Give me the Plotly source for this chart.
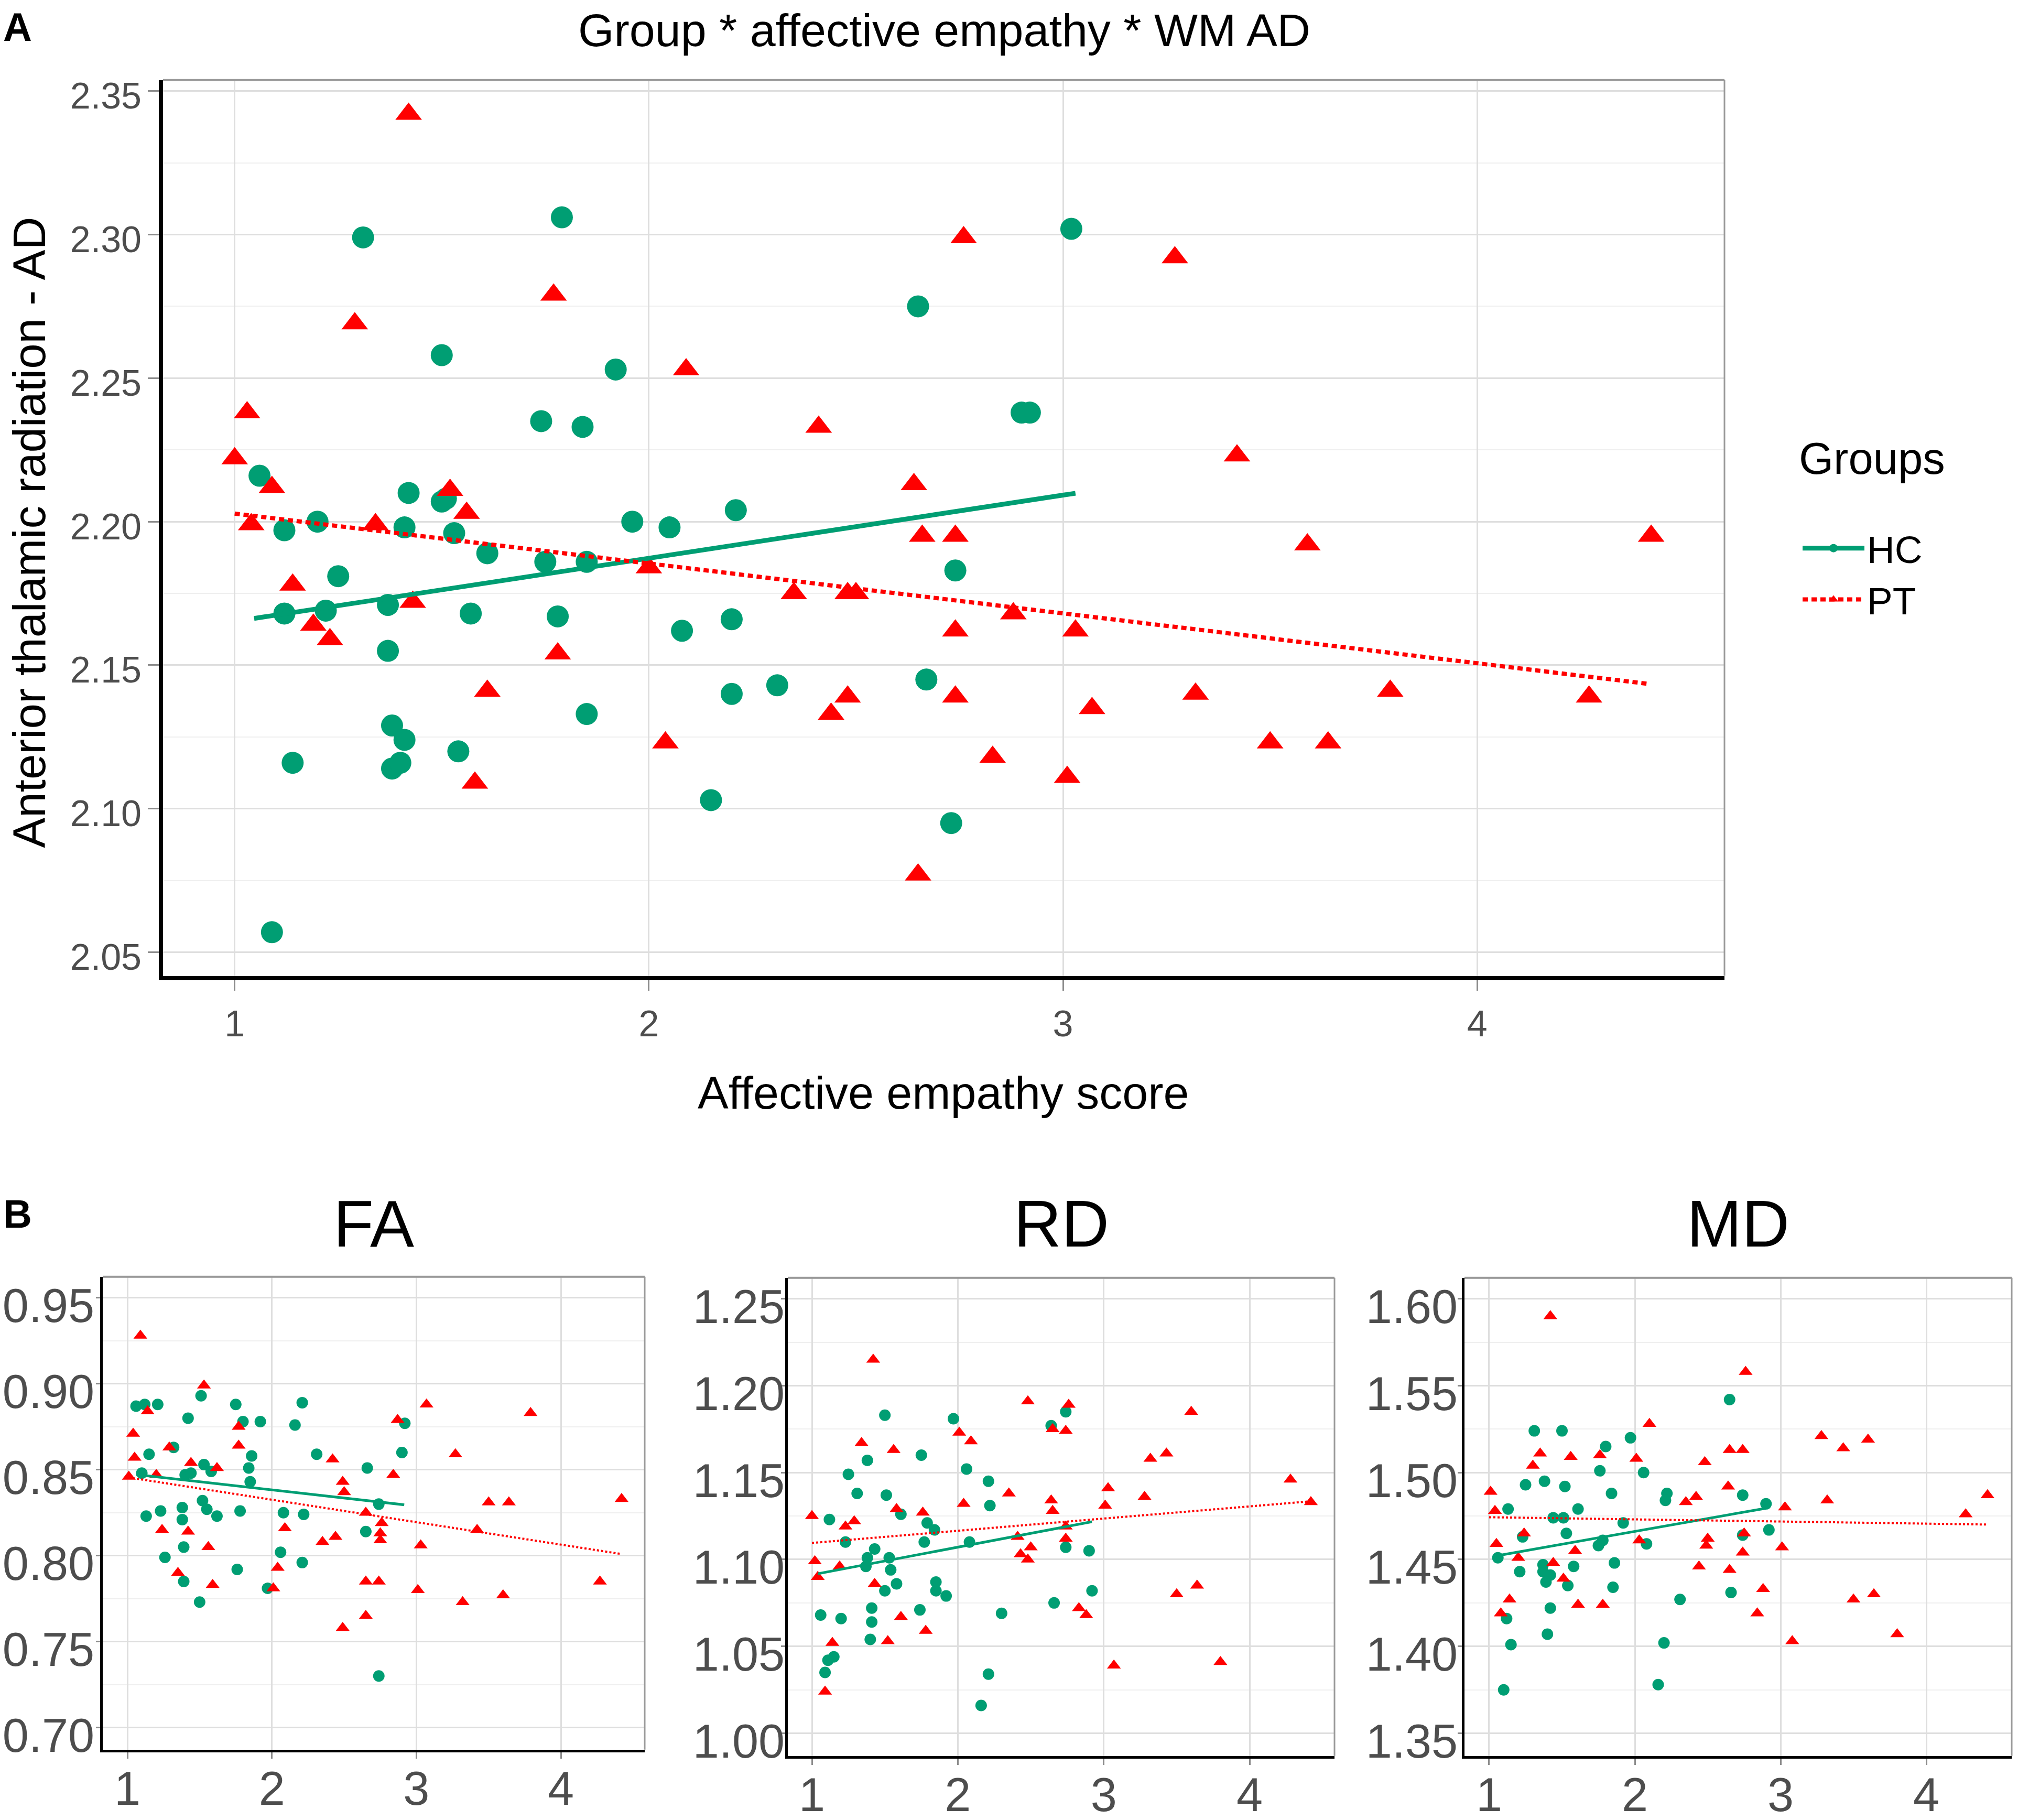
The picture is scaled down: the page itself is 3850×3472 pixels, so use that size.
import plotly.graph_objects as go

W, H = 3850, 3472          # reference picture size
HF = 3482                  # figure height
SY = 1.00767               # vertical mapping: figure px = SY * reference px
GREEN = "#009E73"
RED = "#FF0000"
FONT = "Liberation Sans, Arial, sans-serif"
TICKCOL = "#4D4D4D"

groups = ["HC", "PT"]

# ---------------- Panel A: AD ----------------
a_hc_x = [1.06, 1.12, 1.12, 1.14, 1.09, 1.20, 1.22, 1.25, 1.31, 1.37, 1.37, 1.38, 1.41, 1.38, 1.40, 1.41,
          1.42, 1.50, 1.50, 1.51, 1.53, 1.54, 1.57, 1.61, 1.74, 1.75, 1.79, 1.78, 1.84, 1.85, 1.85, 1.92,
          1.96, 2.05, 2.08, 2.15, 2.21, 2.20, 2.20, 2.31, 2.65, 2.67, 2.74, 2.73, 2.90, 2.92, 3.02]
a_hc_y = [2.216, 2.197, 2.168, 2.116, 2.057, 2.200, 2.169, 2.181, 2.299, 2.171, 2.155, 2.129, 2.124, 2.114,
          2.116, 2.198, 2.210, 2.258, 2.207, 2.208, 2.196, 2.120, 2.168, 2.189, 2.235, 2.186, 2.306, 2.167,
          2.233, 2.186, 2.133, 2.253, 2.200, 2.198, 2.162, 2.103, 2.204, 2.166, 2.140, 2.143, 2.275, 2.145,
          2.183, 2.095, 2.238, 2.238, 2.302]
a_pt_x = [1.00, 1.03, 1.04, 1.09, 1.14, 1.19, 1.23, 1.29, 1.34, 1.42, 1.43, 1.52, 1.56, 1.61, 1.58, 1.77,
          1.78, 2.00, 2.04, 2.09, 2.35, 2.41, 2.44, 2.48, 2.50, 2.48, 2.64, 2.66, 2.74, 2.76, 2.74, 2.74,
          2.65, 2.83, 2.88, 3.01, 3.03, 3.07, 3.27, 3.32, 3.42, 3.50, 3.59, 3.64, 3.79, 4.27, 4.42]
a_pt_y = [2.222, 2.238, 2.199, 2.212, 2.178, 2.164, 2.159, 2.269, 2.199, 2.342, 2.172, 2.211, 2.203, 2.141,
          2.109, 2.279, 2.154, 2.184, 2.123, 2.253, 2.175, 2.233, 2.133, 2.175, 2.175, 2.139, 2.213, 2.195,
          2.195, 2.299, 2.162, 2.139, 2.077, 2.118, 2.168, 2.111, 2.162, 2.135, 2.292, 2.140, 2.223, 2.123,
          2.192, 2.123, 2.141, 2.139, 2.195]
a_hc_fit_x = [1.047, 3.030]
a_hc_fit_y = [2.1663, 2.2099]
a_pt_fit_x = [1.000, 4.413]
a_pt_fit_y = [2.2028, 2.1435]

# ---------------- Panel B: FA ----------------
fa_hc_x = [1.06, 1.12, 1.21, 1.42, 1.51, 1.75, 1.80, 1.92, 2.16, 2.21, 2.92, 1.15, 1.32, 1.86, 2.31, 2.90,
           1.10, 1.40, 1.44, 1.53, 1.58, 1.84, 1.85, 2.66, 1.13, 1.23, 1.38, 1.38, 1.52, 1.55, 1.62, 1.78,
           2.08, 2.22, 2.74, 2.65, 1.39, 1.26, 1.76, 2.06, 2.21, 1.39, 1.97, 1.50, 2.74]
fa_hc_y = [0.887, 0.888, 0.888, 0.880, 0.893, 0.888, 0.878, 0.878, 0.876, 0.889, 0.877, 0.859, 0.863, 0.858,
           0.859, 0.860, 0.848, 0.847, 0.848, 0.853, 0.849, 0.851, 0.843, 0.851, 0.823, 0.826, 0.828, 0.821,
           0.832, 0.827, 0.823, 0.826, 0.825, 0.824, 0.830, 0.814, 0.805, 0.799, 0.792, 0.802, 0.796, 0.785,
           0.781, 0.773, 0.730]
fa_pt_x = [1.09, 1.53, 1.14, 1.04, 1.05, 1.01, 1.20, 1.29, 1.44, 1.62, 1.77, 1.77, 1.24, 1.42, 1.56, 1.35,
           1.59, 2.01, 2.04, 2.09, 2.35, 2.44, 2.42, 2.49, 2.50, 2.49, 2.65, 2.65, 2.65, 2.74, 2.76, 2.75,
           2.75, 2.84, 2.87, 3.03, 3.01, 3.07, 3.27, 3.32, 3.42, 3.50, 3.60, 3.64, 3.79, 4.27, 4.42]
fa_pt_y = [0.928, 0.899, 0.884, 0.871, 0.857, 0.846, 0.847, 0.863, 0.854, 0.851, 0.875, 0.864, 0.815, 0.814,
           0.805, 0.790, 0.783, 0.781, 0.793, 0.816, 0.808, 0.811, 0.856, 0.843, 0.837, 0.758, 0.825, 0.785,
           0.765, 0.785, 0.819, 0.813, 0.809, 0.847, 0.879, 0.806, 0.780, 0.888, 0.859, 0.773, 0.815, 0.831,
           0.777, 0.831, 0.883, 0.785, 0.833]
fa_hc_fit_x = [1.061, 2.916]
fa_hc_fit_y = [0.8472, 0.8296]
fa_pt_fit_x = [1.009, 4.408]
fa_pt_fit_y = [0.8455, 0.8011]

# ---------------- Panel B: RD ----------------
rd_hc_x = [1.50, 1.97, 2.64, 2.74, 1.38, 1.75, 1.25, 2.06, 1.31, 1.51, 2.21, 2.22, 1.12, 1.61, 1.79, 1.84,
           1.23, 1.77, 2.08, 1.43, 1.38, 1.53, 1.37, 1.54, 2.74, 2.90, 1.58, 1.85, 1.50, 1.85, 1.92, 2.92,
           1.41, 1.74, 2.66, 2.30, 1.06, 1.20, 1.41, 1.40, 1.15, 1.11, 1.09, 2.21, 2.16]
rd_hc_y = [1.183, 1.181, 1.177, 1.185, 1.157, 1.160, 1.149, 1.152, 1.138, 1.137, 1.145, 1.131, 1.123, 1.126,
           1.121, 1.117, 1.110, 1.110, 1.110, 1.106, 1.101, 1.101, 1.096, 1.094, 1.107, 1.105, 1.086, 1.087,
           1.082, 1.082, 1.079, 1.082, 1.072, 1.071, 1.075, 1.069, 1.068, 1.066, 1.064, 1.054, 1.044, 1.042,
           1.035, 1.034, 1.016]
rd_pt_x = [1.42, 2.48, 2.76, 3.60, 2.01, 2.09, 1.34, 2.65, 2.74, 1.56, 3.32, 3.43, 4.28, 3.03, 2.35, 2.64,
           3.28, 2.04, 3.01, 4.42, 1.00, 1.29, 1.23, 1.58, 1.76, 2.65, 2.74, 2.74, 2.41, 2.50, 2.43, 2.48,
           1.02, 1.04, 1.19, 1.43, 3.64, 3.50, 2.83, 2.88, 1.61, 1.78, 1.14, 1.52, 3.07, 3.80, 1.09]
rd_pt_y = [1.215, 1.191, 1.189, 1.185, 1.173, 1.168, 1.167, 1.175, 1.174, 1.163, 1.158, 1.161, 1.146, 1.141,
           1.138, 1.134, 1.136, 1.132, 1.131, 1.133, 1.125, 1.122, 1.119, 1.129, 1.127, 1.128, 1.119, 1.112,
           1.113, 1.107, 1.103, 1.100, 1.099, 1.090, 1.096, 1.086, 1.085, 1.080, 1.072, 1.068, 1.067, 1.059,
           1.052, 1.053, 1.039, 1.041, 1.024]
rd_hc_fit_x = [1.041, 2.919]
rd_hc_fit_y = [1.0918, 1.1217]
rd_pt_fit_x = [1.000, 4.423]
rd_pt_fit_y = [1.1095, 1.1335]

# ---------------- Panel B: MD ----------------
md_hc_x = [2.65, 1.31, 1.50, 1.97, 1.80, 1.76, 2.06, 1.38, 1.25, 1.52, 1.84, 2.22, 2.21, 2.74, 2.90, 1.13,
           1.61, 1.44, 1.51, 1.92, 1.53, 2.74, 2.92, 1.23, 1.78, 1.75, 2.08, 1.06, 1.37, 1.21, 1.58, 1.86,
           1.37, 1.42, 1.39, 1.54, 1.85, 2.66, 2.31, 1.42, 1.12, 1.40, 1.15, 2.20, 1.10, 2.16]
md_hc_y = [1.542, 1.524, 1.524, 1.520, 1.515, 1.501, 1.500, 1.495, 1.493, 1.492, 1.488, 1.488, 1.484, 1.487,
           1.482, 1.479, 1.479, 1.474, 1.474, 1.471, 1.465, 1.464, 1.467, 1.463, 1.461, 1.458, 1.459, 1.451,
           1.447, 1.443, 1.446, 1.448, 1.443, 1.441, 1.437, 1.435, 1.434, 1.431, 1.427, 1.422, 1.416, 1.407,
           1.401, 1.402, 1.375, 1.378]
md_pt_x = [1.42, 2.76, 2.10, 3.28, 3.60, 2.65, 2.74, 3.43, 1.35, 1.56, 1.76, 2.01, 1.30, 2.48, 2.64, 1.01,
           2.35, 2.42, 3.32, 4.42, 3.03, 1.04, 4.27, 1.24, 1.05, 2.03, 2.50, 2.49, 2.75, 3.01, 1.59, 2.74,
           1.20, 1.44, 2.44, 2.65, 1.51, 2.88, 3.64, 1.14, 3.50, 1.61, 1.78, 1.08, 2.84, 3.08, 3.80]
md_pt_y = [1.590, 1.558, 1.528, 1.521, 1.519, 1.513, 1.513, 1.514, 1.511, 1.509, 1.510, 1.508, 1.504, 1.506,
           1.492, 1.489, 1.483, 1.486, 1.484, 1.487, 1.480, 1.478, 1.476, 1.465, 1.459, 1.461, 1.462, 1.458,
           1.465, 1.457, 1.455, 1.454, 1.451, 1.448, 1.446, 1.444, 1.439, 1.433, 1.430, 1.427, 1.427, 1.424,
           1.424, 1.419, 1.419, 1.403, 1.407]
md_hc_fit_x = [1.057, 2.901]
md_hc_fit_y = [1.4522, 1.4795]
md_pt_fit_x = [1.000, 4.413]
md_pt_fit_y = [1.4743, 1.4701]

x_ticks = [1, 2, 3, 4]

fig = go.Figure()


def add_panel(xa, ya, hcx, hcy, ptx, pty, hfx, hfy, pfx, pfy, msize, tsize, lw, plw, pdash, legend):
    fig.add_trace(go.Scatter(x=hcx, y=hcy, mode="markers", xaxis=xa, yaxis=ya,
                             marker=dict(symbol="circle", size=msize, color=GREEN),
                             legendgroup="HC", showlegend=False, name=groups[0]))
    fig.add_trace(go.Scatter(x=ptx, y=pty, mode="markers", xaxis=xa, yaxis=ya,
                             marker=dict(symbol="triangle-up", size=tsize, color=RED),
                             legendgroup="PT", showlegend=False, name=groups[1]))
    fig.add_trace(go.Scatter(x=hfx, y=hfy, mode="lines", xaxis=xa, yaxis=ya,
                             line=dict(color=GREEN, width=lw),
                             legendgroup="HC", showlegend=False, name=groups[0]))
    fig.add_trace(go.Scatter(x=pfx, y=pfy, mode="lines", xaxis=xa, yaxis=ya,
                             line=dict(color=RED, width=plw, dash=pdash),
                             legendgroup="PT", showlegend=False, name=groups[1]))
    if legend:
        fig.add_trace(go.Scatter(x=[None], y=[None], mode="lines+markers", xaxis=xa, yaxis=ya,
                                 marker=dict(symbol="circle", size=msize, color=GREEN),
                                 line=dict(color=GREEN, width=lw),
                                 legendgroup="HC", showlegend=True, name=groups[0]))
        fig.add_trace(go.Scatter(x=[None], y=[None], mode="lines+markers", xaxis=xa, yaxis=ya,
                                 marker=dict(symbol="triangle-up", size=tsize, color=RED),
                                 line=dict(color=RED, width=plw, dash=pdash),
                                 legendgroup="PT", showlegend=True, name=groups[1]))


add_panel("x", "y", a_hc_x, a_hc_y, a_pt_x, a_pt_y, a_hc_fit_x, a_hc_fit_y, a_pt_fit_x, a_pt_fit_y,
          42, 44, 9, 8, "10px,7px", True)
add_panel("x2", "y2", fa_hc_x, fa_hc_y, fa_pt_x, fa_pt_y, fa_hc_fit_x, fa_hc_fit_y, fa_pt_fit_x, fa_pt_fit_y,
          22, 23, 5, 4, "4px,4px", False)
add_panel("x3", "y3", rd_hc_x, rd_hc_y, rd_pt_x, rd_pt_y, rd_hc_fit_x, rd_hc_fit_y, rd_pt_fit_x, rd_pt_fit_y,
          22, 23, 5, 4, "4px,4px", False)
add_panel("x4", "y4", md_hc_x, md_hc_y, md_pt_x, md_pt_y, md_hc_fit_x, md_hc_fit_y, md_pt_fit_x, md_pt_fit_y,
          22, 23, 5, 4, "4px,4px", False)


def px_x(p):
    return p / W


def px_y(p):
    # p is a vertical position in reference-picture pixels
    return 1 - SY * p / HF


MAJOR = "#DEDEDE"
MINOR = "#EFEFEF"


def xaxis(domain, rng, anchor, fs, lw, ticklen, standoff):
    return dict(domain=domain, range=rng, anchor=anchor, tickvals=x_ticks,
                showgrid=True, gridcolor=MAJOR, gridwidth=3, zeroline=False,
                showline=True, linecolor="black", linewidth=lw,
                ticks="outside", ticklen=ticklen, tickwidth=3, tickcolor="#8C8C8C",
                ticklabelstandoff=standoff,
                tickfont=dict(family=FONT, size=fs, color=TICKCOL))


def yaxis(domain, rng, anchor, tick0, lw, ticklen):
    return dict(domain=domain, range=rng, anchor=anchor, tick0=tick0, dtick=0.05,
                showgrid=True, gridcolor=MAJOR, gridwidth=3, zeroline=False,
                showline=True, linecolor="black", linewidth=lw,
                ticks="outside", ticklen=ticklen, tickwidth=3, tickcolor="#8C8C8C",
                showticklabels=False,
                minor=dict(dtick=0.025, tick0=tick0, showgrid=True, gridcolor=MINOR, gridwidth=2, ticks=""),
            )


def ylabels(domain, rng, over, anchor, tick0, fs, standoff, drop_px):
    # label-only twin axis: tick labels sit slightly below their grid lines, as in the reference
    span = rng[1] - rng[0]
    hpx = (domain[1] - domain[0]) * HF
    d = drop_px * span / hpx
    return dict(domain=domain, range=[rng[0] + d, rng[1] + d], overlaying=over, anchor=anchor,
                side="left", tick0=tick0, dtick=0.05, tickformat=".2f",
                showgrid=False, zeroline=False, showline=False, ticks="",
                ticklabelstandoff=standoff,
                tickfont=dict(family=FONT, size=fs, color=TICKCOL))


dA = [px_y(1856), px_y(145)]
dFA = [px_y(3334), px_y(2431)]
dB = [px_y(3346), px_y(2433)]
rA = [2.0418, 2.3538]
rFA = [0.6872, 0.9622]
rRD = [0.987, 1.262]
rMD = [1.337, 1.612]

layout = dict(
    width=W, height=HF,
    margin=dict(l=0, r=0, t=0, b=0),
    paper_bgcolor="white", plot_bgcolor="white",
    font=dict(family=FONT, color="black"),
    showlegend=True,
    legend=dict(x=px_x(3434), y=px_y(985), xanchor="left", yanchor="top",
                font=dict(family=FONT, size=73, color="black"),
                itemwidth=118, itemsizing="trace", tracegroupgap=0,
                bgcolor="rgba(0,0,0,0)"),
    xaxis=xaxis([px_x(311), px_x(3290)], [0.827, 4.597], "y", 70, 8, 20, 3),
    yaxis=yaxis(dA, rA, "x", 2.05, 8, 21),
    xaxis2=xaxis([px_x(196), px_x(1230)], [0.8295, 4.580], "y2", 90, 5, 12, -20),
    yaxis2=yaxis(dFA, rFA, "x2", 0.70, 5, 8),
    xaxis3=xaxis([px_x(1503), px_x(2546)], [0.8347, 4.582], "y3", 90, 5, 12, -20),
    yaxis3=yaxis(dB, rRD, "x3", 1.00, 5, 8),
    xaxis4=xaxis([px_x(2794), px_x(3838)], [0.831, 4.586], "y4", 90, 5, 12, -20),
    yaxis4=yaxis(dB, rMD, "x4", 1.35, 5, 8),
    yaxis5=ylabels(dA, rA, "y", "x", 2.05, 70, 40, 9),
    yaxis6=ylabels(dFA, rFA, "y2", "x2", 0.70, 90, 15, 15),
    yaxis7=ylabels(dB, rRD, "y3", "x3", 1.00, 90, 5, 15),
    yaxis8=ylabels(dB, rMD, "y4", "x4", 1.35, 90, 12, 15),
)

# carriers so the label axes are drawn
for xa, ya in [("x", "y5"), ("x2", "y6"), ("x3", "y7"), ("x4", "y8")]:
    fig.add_trace(go.Scatter(x=[None], y=[None], xaxis=xa, yaxis=ya, mode="markers",
                             showlegend=False, hoverinfo="skip"))

shapes = []
for sfx in ["", "2", "3", "4"]:
    xr, yr = "x" + sfx + " domain", "y" + sfx + " domain"
    shapes.append(dict(type="line", xref=xr, yref=yr, x0=0, x1=1, y0=1, y1=1,
                       line=dict(color="#9A9A9A", width=4)))
    shapes.append(dict(type="line", xref=xr, yref=yr, x0=1, x1=1, y0=0, y1=1,
                       line=dict(color="#9A9A9A", width=3)))
layout["shapes"] = shapes

annotations = [
    dict(text="<b>A</b>", x=px_x(4), y=px_y(44), xanchor="left", yanchor="middle",
         font=dict(size=76, color="black")),
    dict(text="<b>B</b>", x=px_x(4), y=px_y(2311), xanchor="left", yanchor="middle",
         font=dict(size=76, color="black")),
    dict(text="Group * affective empathy * WM AD", x=px_x(1801), y=px_y(50), xanchor="center",
         yanchor="middle", font=dict(size=88, color="black")),
    dict(text="Anterior thalamic radiation - AD", x=px_x(56), y=px_y(1009), xanchor="center",
         yanchor="middle", textangle=-90, font=dict(size=87, color="black")),
    dict(text="Affective empathy score", x=px_x(1800), y=px_y(2079), xanchor="center",
         yanchor="middle", font=dict(size=88, color="black")),
    dict(text="Groups", x=px_x(3430), y=px_y(868), xanchor="left", yanchor="middle",
         font=dict(size=85, color="black")),
    dict(text="FA", x=px_x(713), y=px_y(2330), xanchor="center", yanchor="middle",
         font=dict(size=126, color="black")),
    dict(text="RD", x=px_x(2025), y=px_y(2330), xanchor="center", yanchor="middle",
         font=dict(size=126, color="black")),
    dict(text="MD", x=px_x(3316), y=px_y(2330), xanchor="center", yanchor="middle",
         font=dict(size=126, color="black")),
]
for a in annotations:
    a.update(xref="paper", yref="paper", showarrow=False)
    a["font"]["family"] = FONT
layout["annotations"] = annotations

fig.update_layout(**layout)
fig.write_html("out.html", config={"displayModeBar": False},
               post_script="document.body.style.margin='0px';document.body.style.overflow='hidden';")
